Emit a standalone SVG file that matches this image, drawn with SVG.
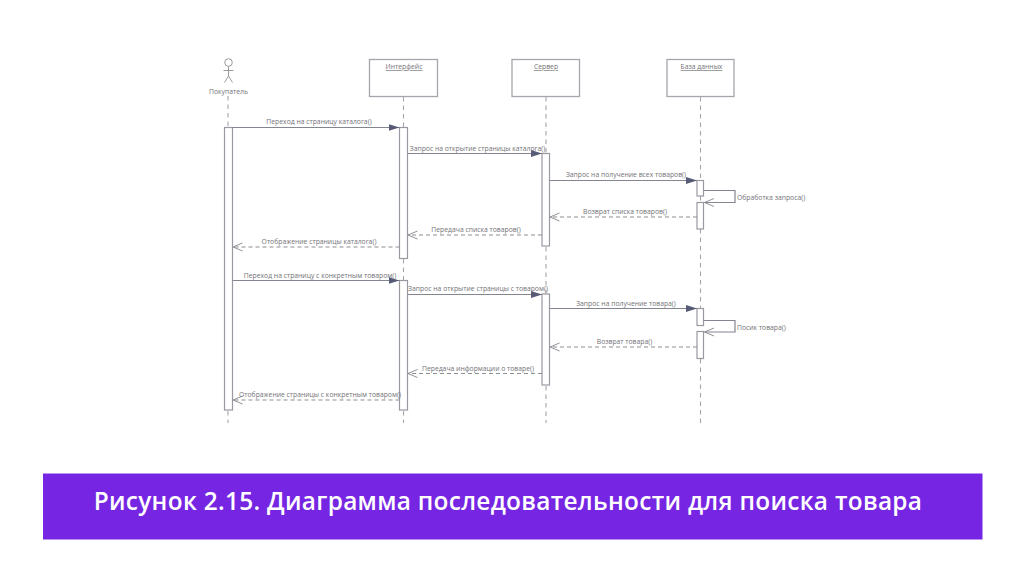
<svg xmlns="http://www.w3.org/2000/svg" width="1024" height="574" viewBox="0 0 1024 574">
<style>
.box{fill:#fff;stroke:#a8a4ac;stroke-width:1.3}
.act{fill:#fff;stroke:#9c98a2;stroke-width:1.2}
.life{fill:none;stroke:#a6a6aa;stroke-width:1.1;stroke-dasharray:4.5 4}
.msg{fill:none;stroke:#83858f;stroke-width:1.2}
.ret{fill:none;stroke:#8d8d94;stroke-width:1.1;stroke-dasharray:4 3}
.t{font-family:"Open Sans","Liberation Sans",sans-serif;font-size:6.8px;fill:#737378}
.u{text-decoration:underline;text-anchor:middle}
.m{text-anchor:middle}
.stick{fill:none;stroke:#8e8e92;stroke-width:.9}
</style>
<defs>
<marker id="solid" markerUnits="userSpaceOnUse" markerWidth="12" markerHeight="8" refX="11" refY="4" orient="auto"><path d="M0,0.500L11,4L0,7.500Z" fill="#575b75"/></marker>
<marker id="open" markerUnits="userSpaceOnUse" markerWidth="11" markerHeight="10" refX="10" refY="4.500" orient="auto"><path d="M0.500,0.500L10,4.500L0.500,8.500" fill="none" stroke="#85858c" stroke-width=".9"/></marker>
</defs>
<rect width="1024" height="574" fill="#fff"/>
<g id="lifelines">
<path class="life" d="M228 96V127M228 411V423"/>
<path class="life" d="M403.500 97V127M403.500 259V280M403.500 411V423"/>
<path class="life" d="M546 97V153M546 247V294M546 386V423"/>
<path class="life" d="M700.500 97V180M700.500 196V202M700.500 229V308M700.500 359V423"/>
</g>
<g id="actor-buyer">
<circle class="stick" cx="228.500" cy="62.500" r="3.800"/>
<path class="stick" d="M228.500 66.500V76M223.500 70.500H233.500M228.500 76L224.500 82.500M228.500 76L232.500 82.500"/>
<text class="t m" x="228.500" y="93.500">Покупатель</text>
</g>
<g id="node-interface">
<rect class="box" x="369.500" y="59.500" width="68" height="37"/>
<text class="t u" x="404" y="69">Интерфейс</text>
</g>
<g id="node-server">
<rect class="box" x="512" y="59.500" width="67.500" height="37"/>
<text class="t u" x="546" y="69">Сервер</text>
</g>
<g id="node-database">
<rect class="box" x="667" y="59.500" width="67" height="37"/>
<text class="t u" x="701.500" y="69">База данных</text>
</g>
<g id="activations">
<rect class="act" x="224.500" y="127.500" width="8" height="282.500"/>
<rect class="act" x="399.500" y="127.500" width="8" height="131"/>
<rect class="act" x="399.500" y="280.500" width="8" height="129.500"/>
<rect class="act" x="542" y="153.500" width="7.500" height="92.500"/>
<rect class="act" x="542" y="294" width="7.500" height="91"/>
<rect class="act" x="697" y="180.500" width="6.500" height="15.500"/>
<rect class="act" x="697" y="202.500" width="6.500" height="26.500"/>
<rect class="act" x="697" y="308.500" width="6.500" height="17"/>
<rect class="act" x="697" y="331.500" width="6.500" height="27"/>
</g>
<g id="connectors">
<path class="msg" d="M232.500 127.500H399.500" marker-end="url(#solid)"/>
<path class="msg" d="M407.500 153.500H542" marker-end="url(#solid)"/>
<path class="msg" d="M549.500 180.500H697" marker-end="url(#solid)"/>
<path class="msg" d="M703.500 190.500H735V202.500H704.500" marker-end="url(#open)"/>
<path class="ret" d="M697 217H550" marker-end="url(#open)"/>
<path class="ret" d="M542 235H408" marker-end="url(#open)"/>
<path class="ret" d="M399.500 247H233" marker-end="url(#open)"/>
<path class="msg" d="M232.500 280.500H399.500" marker-end="url(#solid)"/>
<path class="msg" d="M407.500 294.500H542" marker-end="url(#solid)"/>
<path class="msg" d="M549.500 308.500H697" marker-end="url(#solid)"/>
<path class="msg" d="M703.500 320.500H735V332H704.500" marker-end="url(#open)"/>
<path class="ret" d="M697 347H550" marker-end="url(#open)"/>
<path class="ret" d="M542 373.500H408" marker-end="url(#open)"/>
<path class="ret" d="M399.500 400H233" marker-end="url(#open)"/>
</g>
<g id="labels">
<text class="t m" x="319" y="124">Переход на страницу каталога()</text>
<text class="t m" x="477.500" y="150.500">Запрос на открытие страницы каталога()</text>
<text class="t m" x="626" y="177">Запрос на получение всех товаров()</text>
<text class="t" x="737" y="200">Обработка запроса()</text>
<text class="t m" x="625" y="214">Возврат списка товаров()</text>
<text class="t m" x="476" y="231.500">Передача списка товаров()</text>
<text class="t m" x="319" y="243.500">Отображение страницы каталога()</text>
<text class="t m" x="320" y="277.500">Переход на страницу с конкретным товаром()</text>
<text class="t m" x="478" y="291">Запрос на открытие страницы с товаром()</text>
<text class="t m" x="626" y="305.500">Запрос на получение товара()</text>
<text class="t" x="737" y="330">Посик товара()</text>
<text class="t m" x="624.500" y="344">Возврат товара()</text>
<text class="t m" x="478" y="370.500">Передача информации о товаре()</text>
<text class="t m" x="320" y="396.500">Отображение страницы с конкретным товаром()</text>
</g>
<g id="caption">
<rect x="43" y="473.500" width="939.500" height="66" fill="#7626e3"/>
<text x="508" y="509.500" text-anchor="middle" font-family="'Open Sans','Noto Sans',sans-serif" font-size="24.400" font-weight="600" letter-spacing=".3" fill="#fff">Рисунок 2.15. Диаграмма последовательности для поиска товара</text>
</g>
</svg>
